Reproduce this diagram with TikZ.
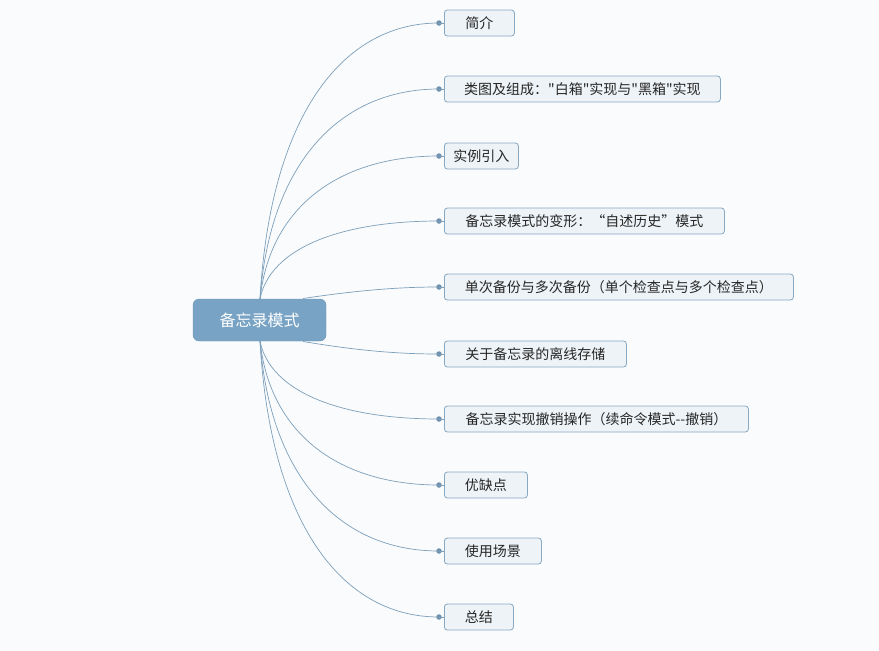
\documentclass[tikz,border=0pt]{standalone}
\usepackage{fontspec}
\newfontfamily\cjk{Noto Sans CJK SC}
\definecolor{bgc}{HTML}{FAFBFC}
\definecolor{rootfill}{HTML}{78A3C4}
\definecolor{rootdraw}{HTML}{6C97B8}
\definecolor{boxfill}{HTML}{EEF3F7}
\definecolor{boxdraw}{HTML}{86A8C3}
\definecolor{linec}{HTML}{7C9FBB}
\definecolor{dotc}{HTML}{6F91AE}
\tikzset{
  rootbox/.style={draw=rootdraw,fill=rootfill,rounded corners=6pt,minimum width=133pt,minimum height=42pt,inner sep=0pt,text=white,font=\cjk\fontsize{16}{18}\selectfont},
  leaf/.style={draw=boxdraw,fill=boxfill,rounded corners=3pt,minimum height=26pt,inner sep=0pt,anchor=west,text=black!85,font=\cjk\fontsize{14}{16}\selectfont,line width=0.8pt},
  dotnode/.style={circle,fill=dotc,inner sep=0pt,minimum size=5.5pt},
  conn/.style={draw=linec,line width=0.7pt}
}
\begin{document}
\begin{tikzpicture}[x=1pt,y=-1pt]
\fill[bgc] (0,0) rectangle (879,651);
\useasboundingbox (0,0) rectangle (879,651);

\node[rootbox] (root) at (259.5,320) {备忘录模式};
\coordinate (rt) at (260,299);
\coordinate (rb) at (260,341);
\coordinate (rtr) at (303,298.5);
\coordinate (rbr) at (303,341.5);

\node[leaf,minimum width=70pt]  (n1) at (444,23)  {简介};
\node[leaf,minimum width=276pt] (n2) at (444,89)  {类图及组成："白箱"实现与"黑箱"实现};
\node[leaf,minimum width=74pt]  (n3) at (444,156) {实例引入};
\node[leaf,minimum width=280pt] (n4) at (444,221) {备忘录模式的变形：“自述历史”模式};
\node[leaf,minimum width=349pt] (n5) at (444,287) {单次备份与多次备份（单个检查点与多个检查点）};
\node[leaf,minimum width=182pt] (n6) at (444,354) {关于备忘录的离线存储};
\node[leaf,minimum width=304pt] (n7) at (444,419) {备忘录实现撤销操作（续命令模式-\/-撤销）};
\node[leaf,minimum width=83pt]  (n8) at (444,485) {优缺点};
\node[leaf,minimum width=97pt]  (n9) at (444,551) {使用场景};
\node[leaf,minimum width=69pt]  (n10) at (444,617) {总结};

\foreach \i/\y in {1/23,2/89,3/156,4/221,5/287,6/354,7/419,8/485,9/551,10/617}{
  \node[dotnode] (d\i) at (439,\y) {};
}

% upper curves
\foreach \i/\y in {1/23,2/89,3/156,4/221}{
  \pgfmathsetmacro{\cy}{299-0.65*(299-\y)}
  \draw[conn] (rt) .. controls (270,\cy) and (340,\y) .. (d\i.center);
}
% lower curves
\foreach \i/\y in {7/419,8/485,9/551,10/617}{
  \pgfmathsetmacro{\cy}{341+0.65*(\y-341)}
  \draw[conn] (rb) .. controls (270,\cy) and (340,\y) .. (d\i.center);
}
\draw[conn] (rtr) .. controls (360,290) and (400,287) .. (d5.center);
\draw[conn] (rbr) .. controls (360,351) and (400,354) .. (d6.center);
\foreach \i in {1,...,10}{ \draw[conn] (d\i.center) -- (n\i.west); }
\end{tikzpicture}
\end{document}
